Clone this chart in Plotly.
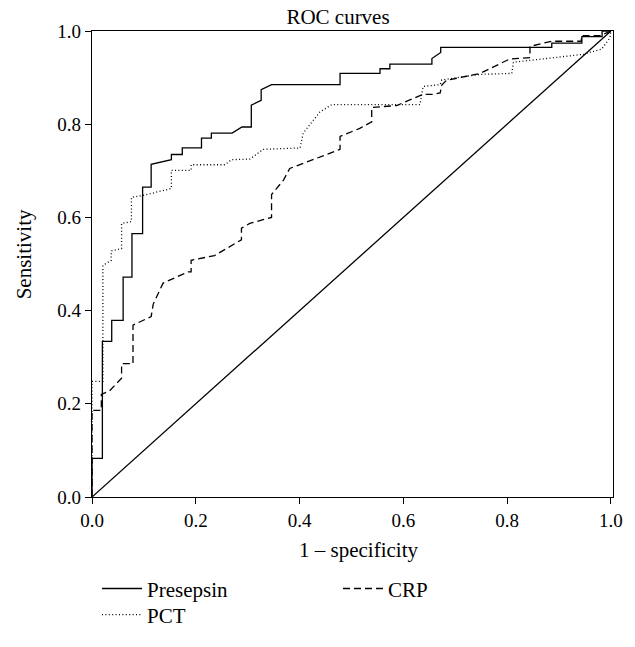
import plotly.graph_objects as go

# ---- data ----
presepsin_x = [0, 0, 0.02, 0.02, 0.038, 0.038, 0.06, 0.06, 0.077, 0.077, 0.0975, 0.0975,
               0.114, 0.114, 0.153, 0.153, 0.174, 0.174, 0.211, 0.211, 0.23, 0.23, 0.27,
               0.289, 0.307, 0.307, 0.326, 0.326, 0.346, 0.478, 0.478, 0.555, 0.555, 0.574,
               0.574, 0.655, 0.655, 0.672, 0.672, 0.886, 0.886, 0.944, 0.944, 0.983, 0.983, 1.0]
presepsin_y = [0, 0.083, 0.083, 0.334, 0.334, 0.379, 0.379, 0.472, 0.472, 0.565, 0.565, 0.665,
               0.665, 0.714, 0.724, 0.735, 0.735, 0.749, 0.749, 0.770, 0.770, 0.781, 0.781,
               0.794, 0.794, 0.841, 0.851, 0.874, 0.885, 0.885, 0.909, 0.909, 0.919, 0.919,
               0.929, 0.929, 0.941, 0.954, 0.965, 0.965, 0.974, 0.974, 0.988, 0.988, 1.0, 1.0]

pct_x = [0, 0, 0.021, 0.021, 0.037, 0.037, 0.057, 0.057, 0.076, 0.076, 0.098, 0.153, 0.153,
         0.191, 0.191, 0.256, 0.269, 0.304, 0.330, 0.401, 0.407, 0.439, 0.462, 0.632, 0.638,
         0.671, 0.674, 0.748, 0.809, 0.812, 0.876, 0.947, 0.982, 0.998, 1.0]
pct_y = [0, 0.248, 0.248, 0.497, 0.508, 0.528, 0.533, 0.587, 0.591, 0.643, 0.647, 0.662, 0.701,
         0.701, 0.713, 0.713, 0.724, 0.725, 0.746, 0.749, 0.781, 0.826, 0.842, 0.842, 0.881,
         0.885, 0.895, 0.907, 0.909, 0.933, 0.941, 0.950, 0.961, 0.985, 1.0]

crp_x = [0, 0, 0.018, 0.018, 0.034, 0.057, 0.057, 0.079, 0.079, 0.114, 0.118, 0.137, 0.185,
         0.191, 0.191, 0.236, 0.288, 0.288, 0.304, 0.346, 0.346, 0.369, 0.381, 0.478, 0.478,
         0.516, 0.539, 0.539, 0.587, 0.638, 0.658, 0.671, 0.674, 0.683, 0.748, 0.805, 0.844,
         0.844, 0.886, 0.943, 0.943, 0.979, 1.0]
crp_y = [0, 0.186, 0.186, 0.220, 0.228, 0.255, 0.286, 0.286, 0.369, 0.387, 0.414, 0.459, 0.483,
         0.483, 0.508, 0.518, 0.552, 0.577, 0.587, 0.600, 0.649, 0.680, 0.705, 0.746, 0.774,
         0.791, 0.805, 0.836, 0.840, 0.864, 0.864, 0.867, 0.884, 0.894, 0.909, 0.940, 0.943,
         0.967, 0.978, 0.978, 0.990, 0.990, 1.0]

ref_x = [0, 1]
ref_y = [0, 1]

x_ticks = [0.0, 0.2, 0.4, 0.6, 0.8, 1.0]
y_ticks = [0.0, 0.2, 0.4, 0.6, 0.8, 1.0]
tick_text = ["0.0", "0.2", "0.4", "0.6", "0.8", "1.0"]

FONT = "Liberation Serif"

# pixel layout of the target image
W, H = 635, 647
L, R, T, B = 92, 22, 31, 134
PW, PH = W - L - R, H - T - B


def px(xp):
    return (xp - L) / PW


def py(yp):
    return (H - B - yp) / PH


fig = go.Figure()
fig.add_trace(go.Scatter(x=presepsin_x, y=presepsin_y, mode="lines", name="Presepsin",
                         line=dict(color="black", width=1.3), legend="legend"))
fig.add_trace(go.Scatter(x=pct_x, y=pct_y, mode="lines", name="PCT",
                         line=dict(color="black", width=1.3, dash="1px,2.4px"), legend="legend3"))
fig.add_trace(go.Scatter(x=crp_x, y=crp_y, mode="lines", name="CRP",
                         line=dict(color="black", width=1.3, dash="7px,4px"), legend="legend2"))
fig.add_trace(go.Scatter(x=ref_x, y=ref_y, mode="lines", showlegend=False,
                         line=dict(color="black", width=1.3), hoverinfo="skip"))

axis_common = dict(
    showgrid=False, zeroline=False, showline=True, linecolor="black", linewidth=1.3,
    mirror=True, ticks="outside", ticklen=6, tickwidth=1.3, tickcolor="black",
    tickfont=dict(family=FONT, size=19, color="black"),
)
fig.update_xaxes(range=[0, 1.004], tickvals=x_ticks, ticktext=tick_text, **axis_common)
fig.update_yaxes(range=[0, 1], tickvals=y_ticks, ticktext=tick_text, **axis_common)

legend_common = dict(xanchor="left", yanchor="middle", orientation="v",
                     bgcolor="rgba(0,0,0,0)", itemwidth=40, font=dict(family=FONT, size=21))

fig.update_layout(
    width=W, height=H,
    margin=dict(l=L, r=R, t=T, b=B),
    paper_bgcolor="white", plot_bgcolor="white",
    font=dict(family=FONT, size=21, color="black"),
    title=dict(text="ROC curves", x=px(338), xref="paper", xanchor="center",
               y=1 - 17 / H, yanchor="middle", font=dict(family=FONT, size=21)),
    legend=dict(x=px(97), y=py(608), **legend_common),
    legend3=dict(x=px(97), y=py(635), **legend_common),
    legend2=dict(x=px(338), y=py(608), **legend_common),
    annotations=[
        dict(text="1 \u2013 specificity", xref="paper", yref="paper",
             x=px(358), y=py(568), xanchor="center", yanchor="middle",
             showarrow=False, font=dict(family=FONT, size=21)),
        dict(text="Sensitivity", xref="paper", yref="paper", textangle=-90,
             x=px(24), y=py(262), xanchor="center", yanchor="middle",
             showarrow=False, font=dict(family=FONT, size=21)),
    ],
)

fig.write_html(
    "out.html",
    config={"displayModeBar": False},
    post_script=("document.body.style.margin='0';"
                 "document.body.style.overflow='hidden';"
                 "document.documentElement.style.overflow='hidden';"),
)
